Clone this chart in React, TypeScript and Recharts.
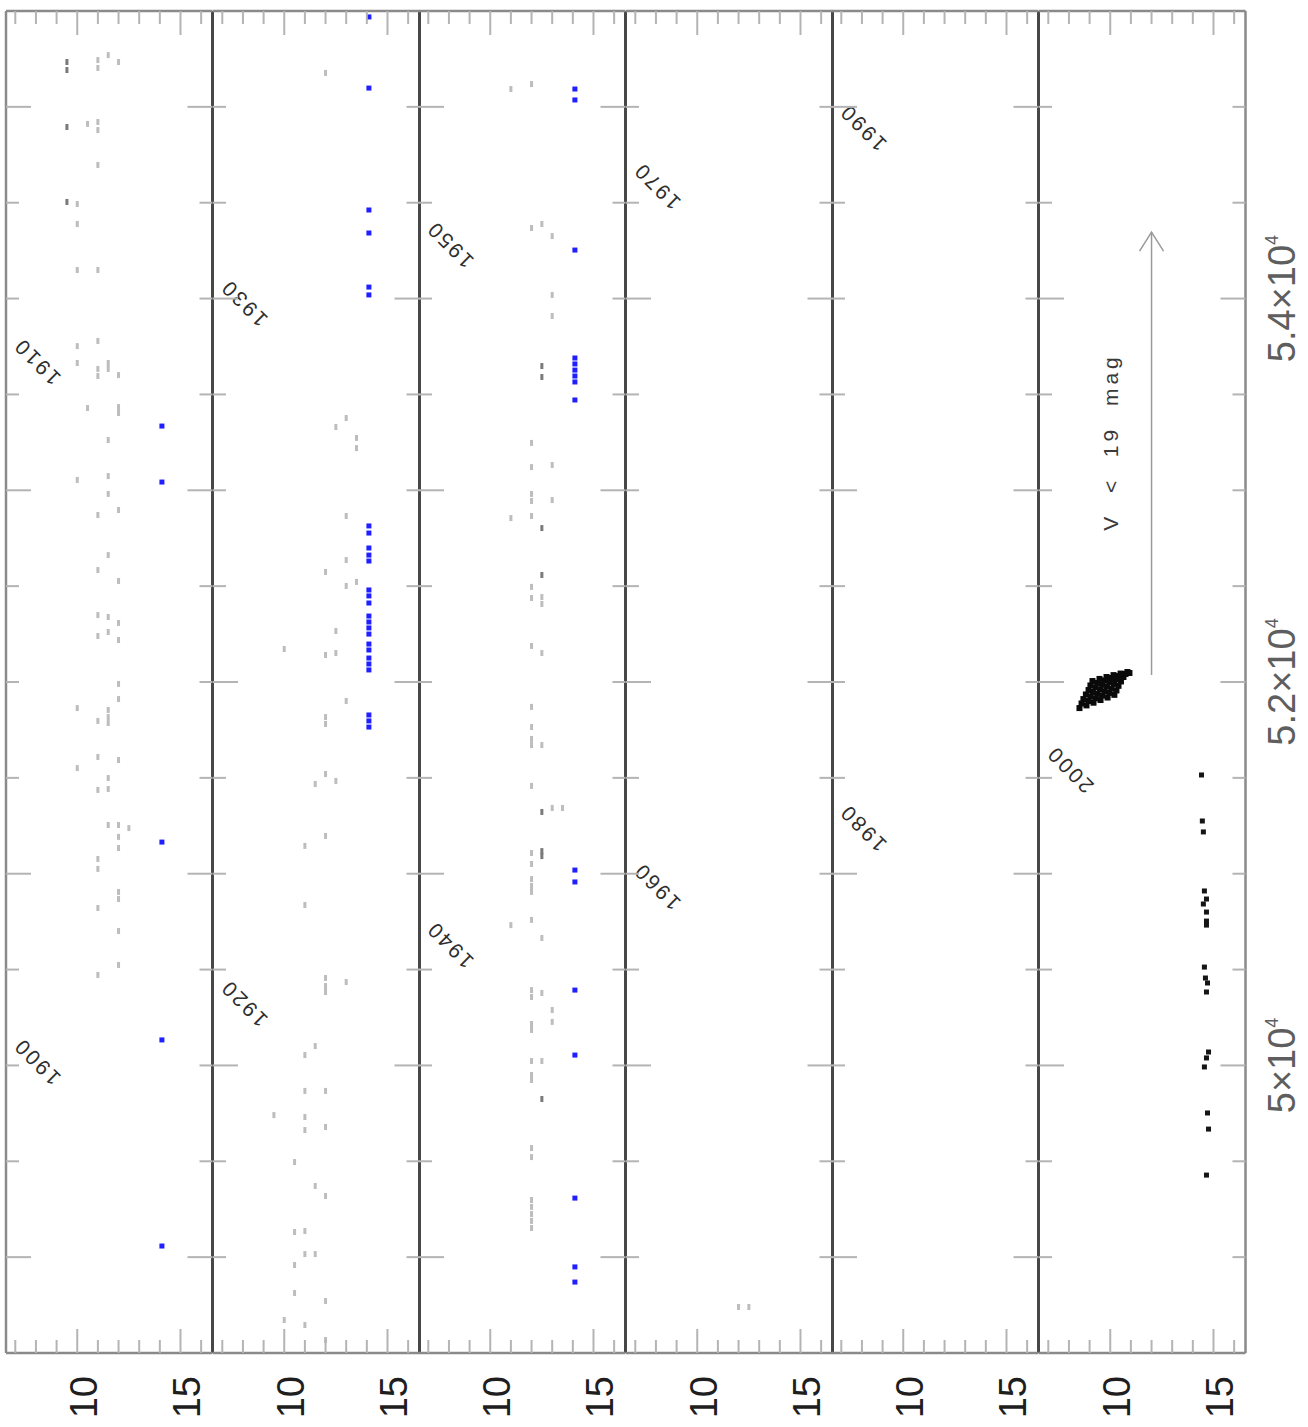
import React from 'react';
import { ScatterChart, Scatter, XAxis, YAxis, ReferenceDot, ReferenceLine } from 'recharts';

// Each observation: [JD − 2400000, V magnitude]
type Obs = [number, number];

// Photographic plate estimates, light marks
const plates1897: Obs[] = [
  [19493, 10], [19389, 10], [19149, 10], [18752, 10], [18664, 10], [18054, 10], [16864, 10], [16551, 10],
  [19911, 10.5], [18429, 10.5],
  [20244, 11], [20203, 11], [19921, 11], [19879, 11], [19697, 11], [19149, 11], [18779, 11], [18633, 11],
  [18596, 11], [17871, 11], [17584, 11], [17349, 11], [17240, 11], [16797, 11], [16609, 11], [16437, 11],
  [16077, 11], [16025, 11], [15821, 11], [15472, 11],
  [20270, 11.5], [18664, 11.5], [18633, 11.5], [18262, 11.5], [18074, 11.5], [17981, 11.5], [17662, 11.5],
  [17339, 11.5], [17261, 11.5], [16854, 11.5], [16817, 11.5], [16786, 11.5], [16499, 11.5], [16442, 11.5],
  [16254, 11.5],
  [20234, 12], [18601, 12], [18434, 12], [18403, 12], [17897, 12], [17527, 12], [17308, 12], [17219, 12],
  [16990, 12], [16911, 12], [16593, 12], [16254, 12], [16192, 12], [16134, 12], [15905, 12], [15868, 12],
  [15701, 12], [15524, 12],
  [16238, 12.5],
];

const plates1916: Obs[] = [
  [27177, 12], [24574, 12], [24141, 12], [23817, 12], [23781, 12], [23520, 12], [23197, 12], [22456, 12],
  [22414, 12], [22383, 12], [21867, 12], [21679, 12], [21319, 12], [20771, 12], [20568, 12],
  [25377, 13], [24866, 13], [24636, 13], [24501, 13], [23901, 13], [22435, 13],
  [25330, 12.5], [24266, 12.5], [24151, 12.5], [23484, 12.5],
  [25273, 13.5], [25220, 13.5], [24522, 13.5],
  [24172, 10], [20672, 10],
  [23468, 11.5], [22101, 11.5], [21371, 11.5], [21016, 11.5],
  [23145, 11], [22837, 11], [22054, 11], [21867, 11], [21731, 11], [21663, 11], [21136, 11], [21016, 11],
  [20646, 11],
  [21741, 9.5],
  [21496, 10.5], [21131, 10.5], [20959, 10.5], [20813, 10.5],
];

const plates1935: Obs[] = [
  [34093, 11], [31855, 11], [29732, 11],
  [34119, 12], [33368, 12], [32247, 12], [32121, 12], [31981, 12], [31944, 12], [31866, 12], [31496, 12],
  [31438, 12], [31188, 12], [30870, 12], [30765, 12], [30703, 12], [30671, 12], [30458, 12], [30108, 12],
  [30051, 12], [29972, 12], [29936, 12], [29905, 12], [29759, 12], [29393, 12], [29357, 12], [29216, 12],
  [29185, 12], [29023, 12], [28950, 12], [28924, 12], [28569, 12], [28522, 12], [28298, 12], [28262, 12],
  [28225, 12], [28189, 12], [28152, 12],
  [33389, 12.5], [31443, 12.5], [31407, 12.5], [31151, 12.5], [30671, 12.5], [29665, 12.5], [29378, 12.5],
  [29023, 12.5],
  [33326, 13], [33019, 13], [32909, 13], [32132, 13], [31949, 13], [30343, 13], [29289, 13], [29227, 13],
  [30343, 13.5],
  [34740, 12], [34740, 12.5],
];

// Plate estimates drawn darker
const platesDark: Obs[] = [
  [20234, 9.5], [20192, 9.5], [19895, 9.5], [19504, 9.5],
  [32648, 12.5], [32591, 12.5], [31803, 12.5], [31558, 12.5], [30322, 12.5], [30118, 12.5], [30092, 12.5],
  [28825, 12.5],
];

// Plate limits (star not seen)
const plateLimits: Obs[] = [
  [18335, 14.1], [18043, 14.1], [16165, 14.1], [15133, 14.1], [14058, 14.1],
  [27469, 14.1], [27098, 14.1], [26462, 14.1], [26342, 14.1], [26060, 14.1], [26019, 14.1], [24814, 14.1],
  [24777, 14.1], [24699, 14.1], [24662, 14.1], [24631, 14.1], [24480, 14.1], [24449, 14.1], [24412, 14.1],
  [24344, 14.1], [24313, 14.1], [24282, 14.1], [24250, 14.1], [24198, 14.1], [24167, 14.1], [24125, 14.1],
  [24094, 14.1], [24063, 14.1], [23828, 14.1], [23797, 14.1], [23765, 14.1],
  [34093, 14.1], [34036, 14.1], [33253, 14.1], [32690, 14.1], [32659, 14.1], [32627, 14.1], [32596, 14.1],
  [32565, 14.1], [32471, 14.1], [30019, 14.1], [29957, 14.1], [29393, 14.1], [29054, 14.1], [28308, 14.1],
  [27949, 14.1], [27870, 14.1],
];

// CCD photometry in quiescence
const ccdQuiet: Obs[] = [
  [51515, 14.42], [51275, 14.46], [51218, 14.51], [50910, 14.56], [50868, 14.66], [50842, 14.51],
  [50800, 14.66], [50753, 14.66], [50732, 14.66], [50513, 14.56], [50456, 14.61], [50430, 14.71],
  [50383, 14.66], [50070, 14.76], [50039, 14.66], [49992, 14.56], [49752, 14.71], [49668, 14.76],
  [49428, 14.66],
];

// CCD photometry of the outburst
const ccdOutburst: Obs[] = [
  [51864, 8.51], [51878, 8.85], [51892, 9.19], [51906, 9.53], [51919, 9.87], [51933, 10.2],
  [51888, 8.61], [51901, 8.95], [51915, 9.28], [51929, 9.62], [51943, 9.96], [51956, 10.3],
  [51911, 8.7], [51925, 9.04], [51938, 9.38], [51952, 9.72], [51966, 10.06], [51980, 10.4],
  [51935, 8.82], [51948, 9.16], [51962, 9.5], [51976, 9.84], [51990, 10.18], [52003, 10.52],
  [51958, 8.95], [51972, 9.28], [51985, 9.62], [52000, 9.96], [52013, 10.3], [52026, 10.64],
  [51982, 9.04], [51995, 9.38], [52008, 9.72], [52021, 10.06], [52031, 10.4], [52042, 10.74],
  [52005, 9.14], [52016, 9.48], [52026, 9.82], [52036, 10.16], [52044, 10.5], [52052, 10.83],
  [52047, 10.93],
];

// Later non-detections, drawn as an arrow
const faintArrow: Obs[] = [[52036, 12], [54347, 12]];
const faintNote = { jd: 53252, mag: 10.05, text: 'V  <  19  mag' };

const yearMarks = [
  { label: '1900', jd: 15020.5 }, { label: '1910', jd: 18672.5 },
  { label: '1920', jd: 22324.5 }, { label: '1930', jd: 25977.5 },
  { label: '1940', jd: 29629.5 }, { label: '1950', jd: 33282.5 },
  { label: '1960', jd: 36934.5 }, { label: '1970', jd: 40587.5 },
  { label: '1980', jd: 44239.5 }, { label: '1990', jd: 47892.5 },
  { label: '2000', jd: 51544.5 },
];
const yearMarkMag = 8.05;

const magTicks = [7, 8, 9, 10, 11, 12, 13, 14, 15, 16];
const magMajor = [10, 15];
const magLabels = [10, 15];
const magDomain: [number, number] = [6.55, 16.55];

const jdLabels = [
  { jd: 50000, mantissa: '5', exponent: '4' },
  { jd: 52000, mantissa: '5.2', exponent: '4' },
  { jd: 54000, mantissa: '5.4', exponent: '4' },
];

const FIRST_JD = 13500;
const SPAN = 7000;
const PANELS = 6;
const MINOR_STEP = 500;
const MAJOR_STEP = 2000;

// layout (chart is drawn landscape, then turned a quarter turn)
const CHART_W = 1427;
const PANEL_H = 206.5;
const FRAME_TOP = 6;
const PAD = 4;
const LEFT_W = 74;
const RIGHT_M = 11;
const LABEL_H = 60;

const FONT = '"Liberation Sans", Arial, Helvetica, sans-serif';
const TICK = '#b4b4b4';
const FRAME = '#8a8a8a';
const SEP = '#474747';

const dash = (fill: string) => (p: any) => (
  <rect x={p.cx - 3} y={p.cy - 1.5} width={6} height={3} fill={fill} />
);
const square = (fill: string, s: number) => (p: any) => (
  <rect x={p.cx - s / 2} y={p.cy - s / 2} width={s} height={s} fill={fill} />
);

const timeLen = (v: number) => (v % MAJOR_STEP === 0 ? 25 : 13);
const magLen = (v: number) => (magMajor.includes(v) ? 24 : 13);

const bottomTick = (p: any, last: boolean) => {
  const v = p.payload.value;
  const lab = last ? jdLabels.find((d) => d.jd === v) : undefined;
  return (
    <g>
      <line x1={p.x} x2={p.x} y1={p.y} y2={p.y - timeLen(v)} stroke={TICK} strokeWidth={2} />
      {lab && (
        <text x={p.x} y={p.y + 49} textAnchor="middle" fontFamily={FONT} fontSize={38} fill="#5e5e5e">
          {lab.mantissa}×10
          <tspan dy={-17} fontSize={18}>{lab.exponent}</tspan>
        </text>
      )}
    </g>
  );
};
const topTick = (p: any) => (
  <line x1={p.x} x2={p.x} y1={p.y} y2={p.y + timeLen(p.payload.value)} stroke={TICK} strokeWidth={2} />
);
const leftTick = (p: any) => {
  const v = p.payload.value;
  return (
    <g>
      <line x1={p.x} x2={p.x + magLen(v)} y1={p.y} y2={p.y} stroke={TICK} strokeWidth={2} />
      {magLabels.includes(v) && (
        <text x={p.x - 23} y={p.y + 19.5} textAnchor="end" fontFamily={FONT} fontSize={38} fill="#1e1e1e">
          {v}
        </text>
      )}
    </g>
  );
};
const rightTick = (p: any) => (
  <line x1={p.x} x2={p.x - magLen(p.payload.value)} y1={p.y} y2={p.y} stroke={TICK} strokeWidth={2} />
);

const arrowShape = (p: any) => {
  const { x1, y1, x2, y2 } = p;
  return (
    <g>
      <line x1={x1} y1={y1} x2={x2} y2={y2} stroke="#9a9a9a" strokeWidth={1.5} />
      <polyline
        points={`${x2 - 19},${y2 - 12} ${x2},${y2} ${x2 - 19},${y2 + 12}`}
        fill="none"
        stroke="#9a9a9a"
        strokeWidth={1.5}
      />
    </g>
  );
};

const Panel = ({ index }: { index: number }) => {
  const lo = FIRST_JD + index * SPAN;
  const hi = lo + SPAN;
  const last = index === PANELS - 1;
  const inWin = (pts: Obs[]) => pts.filter(([t]) => t >= lo && t <= hi).map(([t, m]) => ({ t, m }));
  const timeTicks: number[] = [];
  for (let v = lo + MINOR_STEP; v < hi; v += MINOR_STEP) timeTicks.push(v);
  const xh = last ? LABEL_H : 0;
  const years = yearMarks.filter((y) => y.jd > lo && y.jd < hi);
  const light = [...plates1897, ...plates1916, ...plates1935];

  return (
    <div style={{ position: 'absolute', left: 0, top: FRAME_TOP + index * PANEL_H - PAD }}>
      <ScatterChart
        width={CHART_W}
        height={PANEL_H + 2 * PAD + xh}
        margin={{ top: PAD, right: RIGHT_M, bottom: PAD, left: 0 }}
      >
        <XAxis
          xAxisId="b"
          dataKey="t"
          type="number"
          orientation="bottom"
          domain={[lo, hi]}
          allowDataOverflow
          ticks={timeTicks}
          interval={0}
          mirror={!last}
          height={last ? LABEL_H : 30}
          tickSize={0}
          tickMargin={0}
          tickLine={false}
          axisLine={{ stroke: last ? FRAME : SEP, strokeWidth: last ? 2.5 : 3 }}
          tick={(p: any) => bottomTick(p, last)}
        />
        <XAxis
          xAxisId="t"
          dataKey="t"
          type="number"
          orientation="top"
          domain={[lo, hi]}
          allowDataOverflow
          ticks={timeTicks}
          interval={0}
          mirror
          height={30}
          tickSize={0}
          tickMargin={0}
          tickLine={false}
          axisLine={index === 0 ? { stroke: FRAME, strokeWidth: 2.5 } : false}
          tick={topTick}
        />
        <YAxis
          yAxisId="l"
          dataKey="m"
          type="number"
          orientation="left"
          domain={magDomain}
          reversed
          allowDataOverflow
          ticks={magTicks}
          interval={0}
          width={LEFT_W}
          tickSize={0}
          tickMargin={0}
          tickLine={false}
          axisLine={{ stroke: FRAME, strokeWidth: 2.5 }}
          tick={leftTick}
        />
        <YAxis
          yAxisId="r"
          dataKey="m"
          type="number"
          orientation="right"
          domain={magDomain}
          reversed
          allowDataOverflow
          ticks={magTicks}
          interval={0}
          mirror
          width={60}
          tickSize={0}
          tickMargin={0}
          tickLine={false}
          axisLine={{ stroke: FRAME, strokeWidth: 2.5 }}
          tick={rightTick}
        />
        <Scatter xAxisId="b" yAxisId="l" data={inWin(light)} shape={dash('#bdbdbd')} isAnimationActive={false} />
        <Scatter xAxisId="b" yAxisId="l" data={inWin(platesDark)} shape={dash('#7a7a7a')} isAnimationActive={false} />
        <Scatter xAxisId="b" yAxisId="l" data={inWin(plateLimits)} shape={square('#1f1fff', 5)} isAnimationActive={false} />
        <Scatter xAxisId="b" yAxisId="l" data={inWin(ccdQuiet)} shape={square('#151515', 5)} isAnimationActive={false} />
        <Scatter xAxisId="b" yAxisId="l" data={inWin(ccdOutburst)} shape={square('#0a0a0a', 6)} isAnimationActive={false} />
        {years.map((y) => (
          <ReferenceDot
            key={y.label}
            xAxisId="b"
            yAxisId="l"
            x={y.jd}
            y={yearMarkMag}
            shape={(p: any) => (
              <text
                x={p.cx}
                y={p.cy}
                dy={7}
                textAnchor="middle"
                transform={`rotate(-45 ${p.cx} ${p.cy})`}
                fontFamily={FONT}
                fontSize={21}
                letterSpacing={2.5}
                fill="#2e2e2e"
              >
                {y.label}
              </text>
            )}
          />
        ))}
        {last && (
          <ReferenceLine
            xAxisId="b"
            yAxisId="l"
            segment={[{ x: faintArrow[0][0], y: faintArrow[0][1] }, { x: faintArrow[1][0], y: faintArrow[1][1] }]}
            shape={arrowShape}
          />
        )}
        {last && (
          <ReferenceDot
            xAxisId="b"
            yAxisId="l"
            x={faintNote.jd}
            y={faintNote.mag}
            shape={(p: any) => (
              <text
                x={p.cx}
                y={p.cy}
                dy={7}
                textAnchor="middle"
                fontFamily={FONT}
                fontSize={21}
                letterSpacing={4}
                fill="#3a3a3a"
                style={{ whiteSpace: 'pre' }}
              >
                {faintNote.text}
              </text>
            )}
          />
        )}
      </ScatterChart>
    </div>
  );
};

export default function App() {
  return (
    <div
      style={{
        position: 'absolute',
        left: 0,
        top: 0,
        width: 1308,
        height: 1427,
        overflow: 'hidden',
        background: '#ffffff',
      }}
    >
      <div
        style={{
          position: 'absolute',
          left: 0,
          top: 0,
          width: CHART_W,
          height: 1308,
          transformOrigin: '0 0',
          transform: `translateY(${CHART_W}px) rotate(-90deg)`,
        }}
      >
        {Array.from({ length: PANELS }, (_, i) => (
          <Panel key={i} index={i} />
        ))}
      </div>
    </div>
  );
}
